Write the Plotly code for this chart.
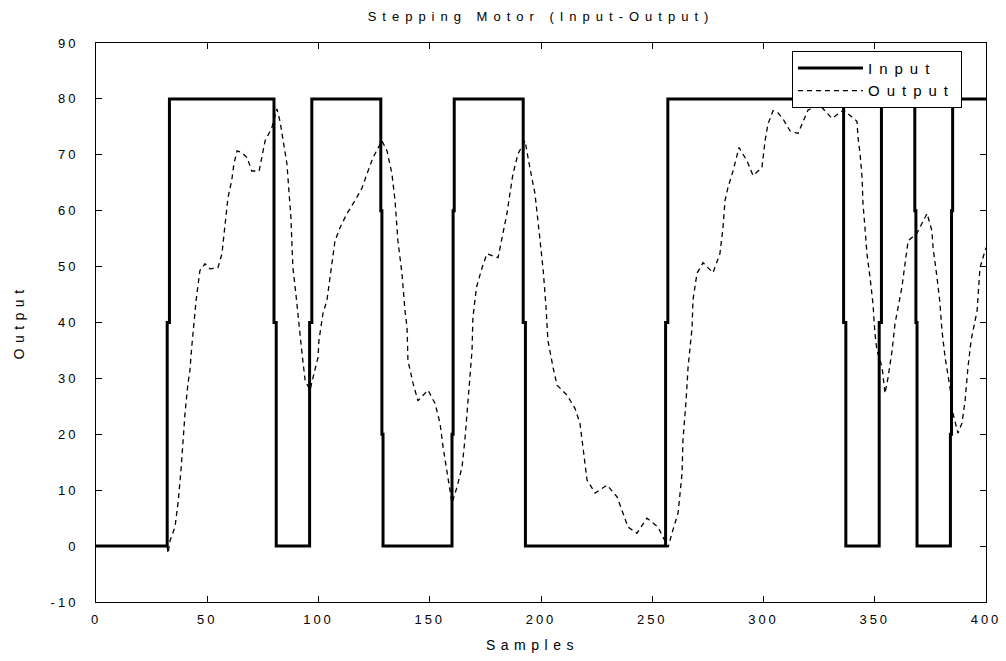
import plotly.graph_objects as go

# Input (step signal) vertices
input_x = [0, 32, 32, 33, 33, 80, 80, 81, 81, 96, 96, 97, 97, 128, 128, 128.5, 128.5, 129, 129,
           160, 160, 160.5, 160.5, 161, 161, 192, 192, 193, 193, 256, 256, 257, 257, 336, 336,
           337, 337, 352, 352, 353, 353, 368, 368, 368.5, 368.5, 369, 369, 384, 384, 384.5,
           384.5, 385, 385, 400]
input_y = [0, 0, 40, 40, 80, 80, 40, 40, 0, 0, 40, 40, 80, 80, 60, 60, 20, 20, 0,
           0, 20, 20, 60, 60, 80, 80, 40, 40, 0, 0, 40, 40, 80, 80, 40,
           40, 0, 0, 40, 40, 80, 80, 60, 60, 40, 40, 0, 0, 20, 20,
           60, 60, 80, 80]

# Output (response)
output_x = [0, 32, 32.4, 33.3, 35.5, 37, 38.2, 39.1, 40, 41.3, 42.2, 43, 44, 45, 46.7, 49, 51.2,
            54.8, 56.6, 58, 59.3, 61, 62, 63.4, 65.6, 67.9, 70, 73.3, 75, 76, 79, 81.3, 82.7,
            84, 85.8, 86.7, 87.6, 88, 88.5, 90, 91.7, 92.6, 94, 96.2, 98, 99.8, 100.2, 102,
            103.8, 105, 106, 107.4, 109.7, 112.8, 116.4, 119.6, 121.8, 124.5, 128.5, 130.8,
            133, 134.4, 135.7, 137.5, 138.9, 139.8, 140.2, 142.5, 144.7, 149.2, 152.4, 154.6,
            156, 157.8, 160, 162.2, 164.5, 165.8, 167.2, 169, 169.4, 170.3, 171, 173.5, 175.7,
            180.7, 183, 184.7, 186, 187.4, 189.7, 192.8, 195, 197.3, 199.6, 201, 202.3, 203.1,
            205.4, 207.2, 211.7, 215.3, 217.5, 218.9, 220.7, 224.3, 229.7, 234.2, 236.9, 239.1,
            243.1, 247.6, 252.6, 257.1, 259.3, 261.6, 263.4, 263.8, 265.2, 266.1, 267.9, 268.3,
            270.1, 272.8, 277.3, 280.4, 281.8, 282.7, 284, 286.3, 289, 292.6, 295.3, 299.3,
            300.7, 302, 304.3, 306.5, 308.8, 311.9, 315.5, 317.3, 320, 325, 330.8, 336, 342,
            342.5, 343.4, 344.3, 344.7, 345.6, 346.5, 347.9, 349.2, 350.1, 351, 353.3, 354.6,
            356, 357.8, 359.1, 360.4, 362.2, 363.6, 365, 369, 373.5, 375.7, 376.2, 378, 379.3,
            380.2, 381.6, 383.8, 385.2, 387.4, 389.2, 390.6, 391.9, 393.3, 396, 397.3, 400]
output_y = [0, 0, -1.3, 1, 3.4, 8.2, 13.6, 19, 23.7, 29, 31.4, 35.5, 39.8, 44, 49.3, 50.5, 49.6,
            49.8, 52.3, 57.7, 62.3, 65.4, 68.4, 70.7, 70.4, 69.5, 67.1, 67.1, 70.2, 72.5, 74.8,
            78.2, 76, 73, 68.4, 63.6, 58.8, 54.6, 49.8, 44.5, 37.3, 34.4, 29.6, 27.9, 30.9,
            33.8, 36.8, 41.6, 44, 47.5, 51, 54.6, 57, 59.5, 61.8, 64.1, 66.6, 69.5, 72.5, 70.7,
            66.6, 61.8, 54.6, 48.8, 42, 39.1, 33.2, 29.1, 26, 27.9, 25.5, 22, 17.7, 13, 7.7,
            10.5, 14.1, 19, 26, 35, 40.9, 44, 46.3, 49.8, 52.3, 51.6, 55.9, 59.5, 63, 66.6,
            70.2, 72.5, 67.7, 63, 54.6, 49.3, 42.5, 36.8, 32, 28.8, 27, 24.6, 22, 17.1, 11.8,
            9.5, 10.9, 8.8, 5.9, 3.4, 2.3, 5, 3.4, -0.2, 2.9, 5.9, 13, 19, 26, 32, 39.1, 44,
            48.8, 50.7, 48.9, 52.3, 57, 61.8, 64.1, 67.1, 71.3, 68.9, 66.3, 67.7, 72.5, 75.5,
            77.9, 77.5, 76.4, 74.3, 73.8, 75.5, 78, 79, 76.5, 78, 76, 73, 70.2, 65.9, 61.3,
            57, 52.3, 48, 43.4, 38, 35, 32, 27.3, 30.2, 35, 39.8, 42.7, 46.3, 50.5, 54.6, 56,
            59.5, 56.4, 53.4, 48, 43.5, 38.6, 33.8, 28.4, 23.7, 20.2, 22, 26, 32, 36.8, 42.1,
            49.8, 53.4, 57]

x_ticks = [0, 50, 100, 150, 200, 250, 300, 350, 400]
y_ticks = [-10, 0, 10, 20, 30, 40, 50, 60, 70, 80, 90]

title_text = "Stepping Motor (Input-Output)"
x_title = "Samples"
y_title = "Output"

font_family = "Liberation Sans, Arial, sans-serif"


def spaced(s, px):
    return '<span style="letter-spacing:%gpx">%s</span>' % (px, s)


fig = go.Figure()
fig.add_trace(go.Scatter(x=input_x, y=input_y, mode="lines", name=spaced("Input", 7),
                         line=dict(color="black", width=3)))
fig.add_trace(go.Scatter(x=output_x, y=output_y, mode="lines", name=spaced("Output", 7),
                         line=dict(color="black", width=1.3, dash="5px,4px")))

axis_common = dict(showgrid=False, zeroline=False, showline=True, linecolor="black",
                   linewidth=1, mirror="ticks", ticks="inside", ticklen=6,
                   tickcolor="black", tickwidth=1, automargin=False,
                   ticklabeloverflow="allow",
                   tickfont=dict(family=font_family, size=13, color="black"))

fig.update_xaxes(range=[0, 400], tickvals=x_ticks,
                 ticktext=[spaced(str(v), 3) for v in x_ticks],
                 ticklabelstandoff=5, **axis_common)
fig.update_yaxes(range=[-10, 90], tickvals=y_ticks,
                 ticktext=[spaced(str(v), 3) for v in y_ticks],
                 ticklabelstandoff=14, **axis_common)

fig.update_layout(
    width=998, height=645,
    margin=dict(l=88, r=20, t=35, b=51),
    paper_bgcolor="white", plot_bgcolor="white",
    title=dict(text=spaced(title_text, 6), x=0.5, xref="paper", xanchor="center",
               y=1, yref="paper", yanchor="bottom", pad=dict(b=22),
               font=dict(family=font_family, size=13, color="black")),
    legend=dict(x=0.973, y=0.986, xanchor="right", yanchor="top",
                bgcolor="white", bordercolor="black", borderwidth=1,
                font=dict(family=font_family, size=15, color="black"),
                itemwidth=65, tracegroupgap=2),
    showlegend=True,
    annotations=[
        dict(text=spaced(x_title, 5.5), x=0.5, xref="paper", y=0, yref="paper",
             xanchor="center", yanchor="middle", yshift=-43, xshift=-9, showarrow=False,
             font=dict(family=font_family, size=14, color="black")),
        dict(text=spaced(y_title, 5.5), x=0, xref="paper", y=0.5, yref="paper",
             xanchor="center", yanchor="middle", xshift=-78, textangle=-90, showarrow=False,
             font=dict(family=font_family, size=14, color="black")),
    ],
)

fig.write_html("out.html")
